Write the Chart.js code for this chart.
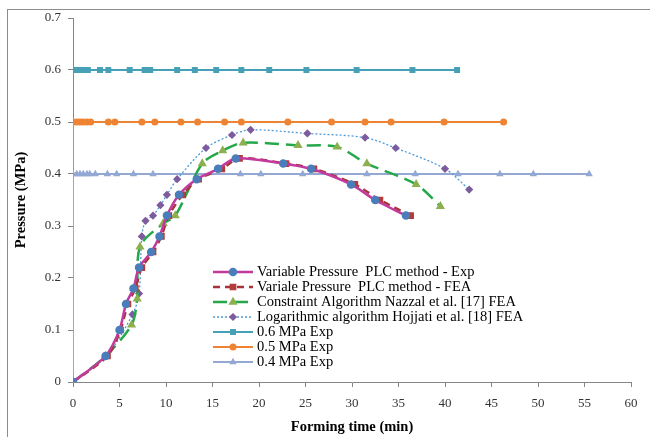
<!DOCTYPE html>
<html>
<head>
<meta charset="utf-8">
<title>Pressure vs forming time</title>
<script src="https://cdn.jsdelivr.net/npm/chart.js@4.4.0/dist/chart.umd.min.js"></script>
<style>
    html, body { margin: 0; padding: 0; background: #fff; }
    #wrap { width: 650px; height: 437px; position: relative; }
</style>
</head>
<body>
<div id="wrap"><canvas id="pressureChart" width="650" height="437"></canvas></div>
<script>
// Time axis ticks (min) and pressure axis ticks (MPa)
var timeTicks = [0, 5, 10, 15, 20, 25, 30, 35, 40, 45, 50, 55, 60];
var pressureTicks = [0, 0.1, 0.2, 0.3, 0.4, 0.5, 0.6, 0.7];

// Variable pressure PLC method - experiment
var expTime = [0, 3.5, 5.0, 5.7, 6.5, 7.1, 8.4, 9.3, 10.1, 11.4, 13.3, 15.6, 17.5, 22.6, 25.6, 29.9, 32.5, 35.8];
var expPressure = [0, 0.05, 0.10, 0.15, 0.18, 0.22, 0.25, 0.28, 0.32, 0.36, 0.39, 0.41, 0.43, 0.42, 0.41, 0.38, 0.35, 0.32];

// Variable pressure PLC method - FEA
var feaTime = [0, 3.7, 5.1, 5.9, 6.7, 7.4, 8.6, 9.5, 10.3, 11.8, 13.5, 16.0, 17.9, 22.9, 25.9, 30.3, 33.0, 36.3];
var feaPressure = [0, 0.05, 0.10, 0.15, 0.18, 0.22, 0.25, 0.28, 0.32, 0.36, 0.39, 0.41, 0.43, 0.42, 0.41, 0.38, 0.35, 0.32];

// Constraint algorithm (Nazzal et al.) FEA
var nazzalTime = [0, 3.5, 6.3, 6.9, 7.2, 9.7, 11.0, 13.9, 16.1, 18.3, 24.2, 28.4, 31.6, 36.9, 39.5];
var nazzalPressure = [0, 0.05, 0.11, 0.16, 0.26, 0.305, 0.32, 0.42, 0.445, 0.46, 0.455, 0.452, 0.42, 0.38, 0.338];

// Logarithmic algorithm (Hojjati et al.) FEA
var hojjatiTime = [0, 3.6, 6.4, 7.1, 7.4, 7.8, 8.6, 9.4, 10.1, 11.2, 14.3, 17.1, 19.1, 25.2, 31.4, 34.7, 40.0, 42.6];
var hojjatiPressure = [0, 0.05, 0.13, 0.17, 0.28, 0.31, 0.32, 0.34, 0.36, 0.39, 0.45, 0.475, 0.485, 0.478, 0.47, 0.45, 0.41, 0.37];

// Constant pressure experiments
var p06Time = [0, 0, 0.2, 0.5, 1.0, 1.6, 2.9, 3.8, 6.1, 7.7, 8.1, 8.3, 11.2, 13.1, 15.4, 18.1, 21.1, 25.1, 30.5, 36.5, 41.3];
var p06Pressure = [0, 0.6, 0.6, 0.6, 0.6, 0.6, 0.6, 0.6, 0.6, 0.6, 0.6, 0.6, 0.6, 0.6, 0.6, 0.6, 0.6, 0.6, 0.6, 0.6, 0.6];

var p05Time = [0, 0, 0.4, 0.75, 1.1, 1.5, 1.9, 3.8, 4.5, 7.4, 8.8, 11.6, 13.4, 16.3, 18.1, 23.1, 27.8, 31.4, 34.2, 39.9, 46.3];
var p05Pressure = [0, 0.5, 0.5, 0.5, 0.5, 0.5, 0.5, 0.5, 0.5, 0.5, 0.5, 0.5, 0.5, 0.5, 0.5, 0.5, 0.5, 0.5, 0.5, 0.5, 0.5];

var p04Time = [0, 0, 0.4, 0.75, 1.1, 1.5, 1.8, 2.4, 3.7, 4.7, 6.5, 8.6, 18.0, 20.2, 24.7, 31.6, 36.8, 41.4, 45.9, 49.5, 55.5];
var p04Pressure = [0, 0.4, 0.4, 0.4, 0.4, 0.4, 0.4, 0.4, 0.4, 0.4, 0.4, 0.4, 0.4, 0.4, 0.4, 0.4, 0.4, 0.4, 0.4, 0.4, 0.4];

var seriesLabels = [
    'Variable Pressure  PLC method - Exp',
    'Variale Pressure  PLC method - FEA',
    'Constraint Algorithm Nazzal et al. [17] FEA',
    'Logarithmic algorithm Hojjati et al. [18] FEA',
    '0.6 MPa Exp',
    '0.5 MPa Exp',
    '0.4 MPa Exp'
];

var serifFont = '"Liberation Serif", "DejaVu Serif", serif';

function toPoints(xs, ys) {
    return xs.map(function(x, i) {
        return { x: x, y: ys[i] };
    });
}

// white page with the thin grey frame round it
var framePlugin = {
    id: 'frame',
    beforeDraw: function(chart) {
        var ctx = chart.ctx;
        ctx.save();
        ctx.fillStyle = '#ffffff';
        ctx.fillRect(0, 0, chart.width, chart.height);
        ctx.strokeStyle = '#8c8c8c';
        ctx.lineWidth = 1;
        ctx.strokeRect(7.5, 9.5, 700, 500);
        ctx.restore();
    }
};

// legend drawn inside the plot, below the curves
var insideLegend = {
    id: 'insideLegend',
    afterDraw: function(chart) {
        var ctx = chart.ctx;
        var left = 213, top = 272, row = 15, sample = 40;
        ctx.save();
        chart.data.datasets.forEach(function(ds, i) {
            var y = top + i * row;
            ctx.strokeStyle = ds.borderColor;
            ctx.lineWidth = ds.borderWidth;
            ctx.setLineDash(ds.borderDash || []);
            ctx.beginPath();
            ctx.moveTo(left, y);
            ctx.lineTo(left + sample, y);
            ctx.stroke();
            ctx.setLineDash([]);
            ctx.fillStyle = ds.pointBackgroundColor;
            ctx.strokeStyle = ds.pointBorderColor;
            Chart.helpers.drawPoint(ctx, {
                pointStyle: ds.pointStyle,
                radius: ds.pointRadius,
                borderWidth: 1,
                rotation: 0
            }, left + sample / 2, y);
            ctx.fillStyle = '#000000';
            ctx.font = '14.5px ' + serifFont;
            ctx.textBaseline = 'middle';
            ctx.textAlign = 'left';
            ctx.fillText(ds.label, left + sample + 4, y);
        });
        ctx.restore();
    }
};

var datasets = [
    {
        label: seriesLabels[0],
        data: toPoints(expTime, expPressure),
        borderColor: '#c13a9c',
        borderWidth: 2.5,
        pointStyle: 'circle',
        pointRadius: 3,
        pointBackgroundColor: '#4a7ebb',
        pointBorderColor: '#4a7ebb',
        tension: 0.3,
        order: 0
    },
    {
        label: seriesLabels[1],
        data: toPoints(feaTime, feaPressure),
        borderColor: '#a8323a',
        borderWidth: 2.5,
        borderDash: [7, 5],
        pointStyle: 'rect',
        pointRadius: 3,
        pointBackgroundColor: '#b23b3b',
        pointBorderColor: '#b23b3b',
        tension: 0.3,
        order: 0
    },
    {
        label: seriesLabels[2],
        data: toPoints(nazzalTime, nazzalPressure),
        borderColor: '#25a84a',
        borderWidth: 2.5,
        borderDash: [14, 7],
        pointStyle: 'triangle',
        pointRadius: 2.8,
        pointBackgroundColor: '#8db04f',
        pointBorderColor: '#8db04f',
        tension: 0.3,
        order: 0
    },
    {
        label: seriesLabels[3],
        data: toPoints(hojjatiTime, hojjatiPressure),
        borderColor: '#4e9bd8',
        borderWidth: 1.3,
        borderDash: [2, 2],
        pointStyle: 'rectRot',
        pointRadius: 3.2,
        pointBackgroundColor: '#7d5b9e',
        pointBorderColor: '#7d5b9e',
        tension: 0.3,
        order: 0
    },
    {
        label: seriesLabels[4],
        data: toPoints(p06Time, p06Pressure),
        borderColor: '#46a0b6',
        borderWidth: 2,
        pointStyle: 'rect',
        pointRadius: 2.8,
        pointBackgroundColor: '#46a0b6',
        pointBorderColor: '#46a0b6',
        tension: 0,
        order: 3
    },
    {
        label: seriesLabels[5],
        data: toPoints(p05Time, p05Pressure),
        borderColor: '#ee8433',
        borderWidth: 2,
        pointStyle: 'circle',
        pointRadius: 2.5,
        pointBackgroundColor: '#ee8433',
        pointBorderColor: '#ee8433',
        tension: 0,
        order: 2
    },
    {
        label: seriesLabels[6],
        data: toPoints(p04Time, p04Pressure),
        borderColor: '#94a8d4',
        borderWidth: 2,
        pointStyle: 'triangle',
        pointRadius: 2.3,
        pointBackgroundColor: '#94a8d4',
        pointBorderColor: '#94a8d4',
        tension: 0,
        order: 1
    }
];

var axisColor = '#868686';
var tickFont = { family: serifFont, size: 13 };
var titleFont = { family: serifFont, size: 14.5, weight: 'bold' };

var chart = new Chart(document.getElementById('pressureChart'), {
    type: 'line',
    data: { datasets: datasets },
    options: {
        responsive: false,
        animation: false,
        layout: { padding: { top: 18, right: 19, left: 0, bottom: 0 } },
        plugins: {
            legend: { display: false },
            tooltip: { enabled: false }
        },
        scales: {
            x: {
                type: 'linear',
                min: timeTicks[0],
                max: timeTicks[timeTicks.length - 1],
                afterBuildTicks: function(scale) {
                    scale.ticks = timeTicks.map(function(v) { return { value: v }; });
                },
                afterFit: function(scale) { scale.height = 55; },
                grid: { drawOnChartArea: false, drawTicks: true, tickLength: 5, color: axisColor },
                border: { color: axisColor, width: 1 },
                ticks: { color: '#333333', font: tickFont, padding: 9, maxRotation: 0 },
                title: {
                    display: true,
                    text: 'Forming time (min)',
                    color: '#000000',
                    font: titleFont,
                    padding: { top: 0, bottom: 1 }
                }
            },
            y: {
                min: pressureTicks[0],
                max: pressureTicks[pressureTicks.length - 1],
                afterBuildTicks: function(scale) {
                    scale.ticks = pressureTicks.map(function(v) { return { value: v }; });
                },
                afterFit: function(scale) { scale.width = 73; },
                grid: { drawOnChartArea: false, drawTicks: true, tickLength: 5, color: axisColor },
                border: { color: axisColor, width: 1 },
                ticks: {
                    color: '#333333',
                    font: tickFont,
                    padding: 7,
                    callback: function(v) { return String(Math.round(v * 10) / 10); }
                },
                title: {
                    display: true,
                    text: 'Pressure (MPa)',
                    color: '#000000',
                    font: titleFont,
                    padding: { top: 13, bottom: 0 }
                }
            }
        }
    },
    plugins: [framePlugin, insideLegend]
});
</script>
</body>
</html>
